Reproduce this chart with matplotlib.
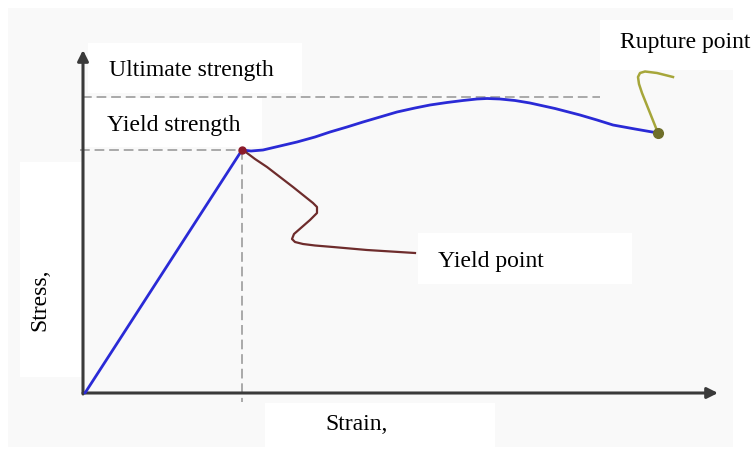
import matplotlib
matplotlib.use("Agg")
import matplotlib.pyplot as plt
from matplotlib.patches import Rectangle

W, H = 751, 450
OX, OY, S = 85.0, 393.0, 100.0   # origin pixel & pixels per unit

# stress-strain curve (arbitrary units)
strain = [0.0, 1.57, 1.66, 1.78, 1.95, 2.12, 2.30, 2.45, 2.62, 2.78, 2.95, 3.12, 3.30,
          3.45, 3.62, 3.78, 3.92, 4.02, 4.15, 4.30, 4.45, 4.70, 4.95, 5.12, 5.28, 5.50, 5.73]
stress = [0.0, 2.43, 2.42, 2.43, 2.47, 2.51, 2.56, 2.61, 2.66, 2.71, 2.76, 2.81, 2.85,
          2.88, 2.905, 2.925, 2.94, 2.945, 2.94, 2.925, 2.90, 2.845, 2.78, 2.73, 2.68, 2.64, 2.60]

yield_strain, yield_stress = 1.57, 2.43
ultimate_stress = 2.96
rupture_strain, rupture_stress = 5.73, 2.60

# leader lines
yield_lead_x = [1.58, 1.70, 1.82, 1.95, 2.08, 2.18, 2.28, 2.32, 2.32, 2.25, 2.17, 2.09, 2.07, 2.10,
                2.18, 2.30, 2.48, 2.82, 3.30]
yield_lead_y = [2.43, 2.34, 2.26, 2.16, 2.06, 1.98, 1.90, 1.86, 1.80, 1.73, 1.66, 1.59, 1.54, 1.51,
                1.49, 1.475, 1.46, 1.43, 1.40]
rup_lead_x = [5.73, 5.69, 5.65, 5.61, 5.57, 5.54, 5.53, 5.55, 5.60, 5.72, 5.88]
rup_lead_y = [2.60, 2.70, 2.80, 2.90, 3.00, 3.09, 3.16, 3.20, 3.215, 3.20, 3.16]

labels = {"ult": "Ultimate strength", "yld": "Yield strength", "rup": "Rupture point",
          "ypt": "Yield point", "x": "Strain,", "y": "Stress,"}


def d(px, py):
    return (px - OX) / S, (OY - py) / S


fig = plt.figure(figsize=(W / 100, H / 100), dpi=100)
fig.patch.set_facecolor("white")
ax = fig.add_axes([0, 0, 1, 1])
ax.set_xlim(-OX / S, (W - OX) / S)
ax.set_ylim(-(H - OY) / S, OY / S)
ax.axis("off")


def box(x0, y0, x1, y1, color):
    (a, b), (c, e) = d(x0, y1), d(x1, y0)
    ax.add_patch(Rectangle((a, b), c - a, e - b, facecolor=color, edgecolor="none", zorder=0))


box(8, 8, 733, 447, "#f9f9f9")
for bx in [(88, 43, 302, 93), (84, 98, 262, 147), (600, 20, 751, 70),
           (418, 233, 632, 284), (265, 403, 495, 447), (20, 162, 82, 377)]:
    box(*bx, "white")

dash = dict(color="#a9a9a9", lw=1.4, ls=(0, (5, 2.5)), zorder=1)
ax.plot([d(82, 0)[0], d(600, 0)[0]], [ultimate_stress] * 2, **dash)
ax.plot([d(80, 0)[0], yield_strain], [yield_stress] * 2, **dash)
ax.plot([yield_strain] * 2, [yield_stress, d(0, 402)[1]], **dash)

# axes arrows
ax_col = "#3a3a3a"
ax.annotate("", xy=d(718, 393), xytext=d(83, 393),
            arrowprops=dict(arrowstyle="-|>", color=ax_col, lw=2.2, mutation_scale=16, shrinkA=0, shrinkB=0), zorder=2)
ax.annotate("", xy=d(83, 50), xytext=d(83, 394),
            arrowprops=dict(arrowstyle="-|>", color=ax_col, lw=2.2, mutation_scale=16, shrinkA=0, shrinkB=0), zorder=2)

ax.plot(strain, stress, color="#2a2ad6", lw=2.0, solid_joinstyle="round", solid_capstyle="round", zorder=3)
ax.plot(yield_lead_x, yield_lead_y, color="#6e2c2c", lw=1.6, solid_joinstyle="round", zorder=3)
ax.plot(rup_lead_x, rup_lead_y, color="#a6a63a", lw=1.8, solid_joinstyle="round", zorder=3)
ax.plot([yield_strain], [yield_stress], "o", color="#8b1a2a", ms=5, zorder=4)
ax.plot([rupture_strain], [rupture_stress], "o", color="#6f6f2a", ms=7, zorder=4)

font = dict(family="Liberation Serif", fontsize=17, color="black", zorder=5)
ax.text(*d(109, 76), labels["ult"], ha="left", va="baseline", **font)
ax.text(*d(107, 131), labels["yld"], ha="left", va="baseline", **font)
ax.text(*d(750, 48), labels["rup"], ha="right", va="baseline", **font)
ax.text(*d(438, 267), labels["ypt"], ha="left", va="baseline", **font)
ax.text(*d(357, 430), labels["x"], ha="center", va="baseline", **font)
ax.text(*d(40, 300), labels["y"], ha="center", va="center", rotation=90, **font)

fig.savefig("out.png", dpi=100, facecolor="white")
